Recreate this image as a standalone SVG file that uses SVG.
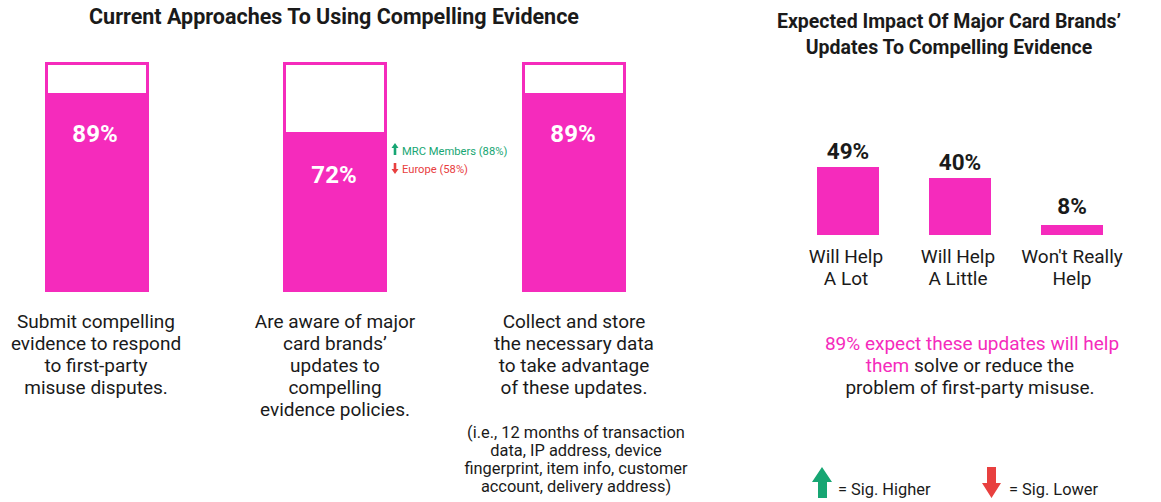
<svg xmlns="http://www.w3.org/2000/svg" width="1161" height="502" viewBox="0 0 1161 502">
<style>
.t{font-family:Roboto,"Liberation Sans",sans-serif;fill:#1a1a1a}
.title{font-size:21.5px;font-weight:bold;text-anchor:middle}
.title2{font-size:19.5px;font-weight:bold;text-anchor:middle}
.lbl{font-size:19px;text-anchor:middle}
.pct{font-family:Roboto,"Liberation Sans",sans-serif;font-size:24px;font-weight:bold;fill:#fff;text-anchor:middle}
.bpct{font-size:22.5px;font-weight:bold;text-anchor:middle}
.sm{font-size:16.4px;text-anchor:middle}
.bar{fill:#F52BBC}
.frame{fill:#fff;stroke:#F52BBC;stroke-width:3}
.g{fill:#17a673}
.r{fill:#e8403f}
.ann{font-family:Roboto,"Liberation Sans",sans-serif;font-size:11.2px}
</style>
<rect width="1161" height="502" fill="#fff"/>
<text class="t title" x="334" y="24">Current Approaches To Using Compelling Evidence</text>
<text class="t title2" x="949" y="28">Expected Impact Of Major Card Brands’</text>
<text class="t title2" x="949" y="54">Updates To Compelling Evidence</text>

<g id="bar1">
<rect class="frame" x="46.5" y="63.5" width="101" height="227"/>
<rect class="bar" x="45" y="93" width="104" height="199"/>
<text class="pct" x="95" y="142">89%</text>
<text class="t lbl" x="96" y="328">Submit compelling</text>
<text class="t lbl" x="96" y="350">evidence to respond</text>
<text class="t lbl" x="96" y="372">to first-party</text>
<text class="t lbl" x="96" y="394">misuse disputes.</text>
</g>
<g id="bar2">
<rect class="frame" x="284.5" y="63.5" width="101" height="227"/>
<rect class="bar" x="283" y="132" width="104" height="160"/>
<text class="pct" x="334" y="183">72%</text>
<text class="t lbl" x="335" y="328">Are aware of major</text>
<text class="t lbl" x="335" y="350">card brands’</text>
<text class="t lbl" x="335" y="372">updates to</text>
<text class="t lbl" x="335" y="394">compelling</text>
<text class="t lbl" x="335" y="416">evidence policies.</text>
<path class="g" d="M395 143 L398.5 148 L396.3 148 L396.3 155 L393.7 155 L393.7 148 L391.5 148 Z"/>
<text class="ann" x="402" y="155" fill="#17a673">MRC Members (88%)</text>
<path class="r" d="M395 174 L398.5 169 L396.3 169 L396.3 163 L393.7 163 L393.7 169 L391.5 169 Z"/>
<text class="ann" x="402" y="173" fill="#e8403f">Europe (58%)</text>
</g>
<g id="bar3">
<rect class="frame" x="523.5" y="63.5" width="101" height="227"/>
<rect class="bar" x="522" y="93" width="104" height="199"/>
<text class="pct" x="573" y="142">89%</text>
<text class="t lbl" x="574" y="328">Collect and store</text>
<text class="t lbl" x="574" y="350">the necessary data</text>
<text class="t lbl" x="574" y="372">to take advantage</text>
<text class="t lbl" x="574" y="394">of these updates.</text>
<text class="t sm" x="576" y="438">(i.e., 12 months of transaction</text>
<text class="t sm" x="576" y="456">data, IP address, device</text>
<text class="t sm" x="576" y="474">fingerprint, item info, customer</text>
<text class="t sm" x="576" y="492">account, delivery address)</text>
</g>

<g id="impact1">
<rect class="bar" x="817" y="167" width="62" height="68"/>
<text class="t bpct" x="848" y="159">49%</text>
<text class="t lbl" x="846" y="263">Will Help</text>
<text class="t lbl" x="846" y="285">A Lot</text>
</g>
<g id="impact2">
<rect class="bar" x="929" y="178" width="62" height="57"/>
<text class="t bpct" x="960" y="170">40%</text>
<text class="t lbl" x="958" y="263">Will Help</text>
<text class="t lbl" x="958" y="285">A Little</text>
</g>
<g id="impact3">
<rect class="bar" x="1041" y="225" width="62" height="10"/>
<text class="t bpct" x="1072" y="214">8%</text>
<text class="t lbl" x="1072" y="263">Won't Really</text>
<text class="t lbl" x="1072" y="285">Help</text>
</g>
<g id="summary">
<text class="t lbl" x="972" y="350" style="fill:#F52BBC">89% expect these updates will help</text>
<text class="t lbl" x="970" y="372"><tspan style="fill:#F52BBC">them</tspan> solve or reduce the</text>
<text class="t lbl" x="970" y="394">problem of first-party misuse.</text>
</g>
<g id="legend">
<path class="g" d="M822 467 L832 482 L827 482 L827 498 L818 498 L818 482 L812 482 Z"/>
<text class="t" x="838" y="495" font-size="16.4">= Sig. Higher</text>
<path class="r" d="M991.5 498 L1001 483 L996 483 L996 467 L987 467 L987 483 L982 483 Z"/>
<text class="t" x="1009" y="495" font-size="16.4">= Sig. Lower</text>
</g>
</svg>
